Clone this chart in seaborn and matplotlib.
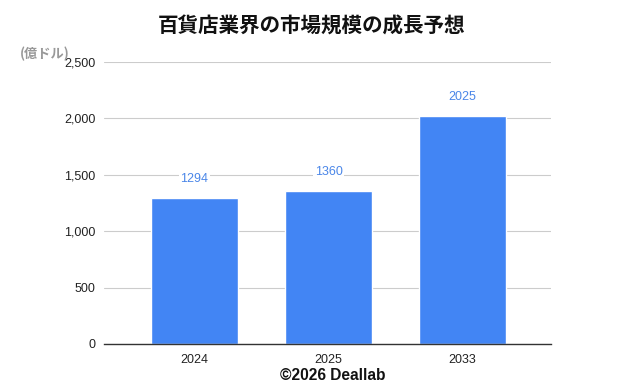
import matplotlib
matplotlib.use("Agg")
import matplotlib.pyplot as plt
import seaborn as sns
import pandas as pd
from matplotlib.ticker import FuncFormatter

years = ["2024", "2025", "2033"]
values = [1294, 1360, 2025]
yticks = [0, 500, 1000, 1500, 2000, 2500]

sns.set_theme(style="white")
plt.rcParams['font.family'] = ['Liberation Sans', 'Noto Sans CJK JP', 'DejaVu Sans']

df = pd.DataFrame({"year": years, "value": values})

fig = plt.figure(figsize=(6.26, 3.86), dpi=100)
ax = fig.add_axes([104/626, 1-344/386, (551-104)/626, (344-62)/386])

sns.barplot(data=df, x="year", y="value", color="#4285F4", width=0.65,
            saturation=1, ax=ax, zorder=3)

ax.set_xlim(-0.675, 2.66)
ax.set_ylim(0, 2500)
ax.set_yticks(yticks)
ax.yaxis.set_major_formatter(FuncFormatter(lambda v, p: f"{int(v):,}"))
ax.grid(axis="y", color="#cccccc", linewidth=0.8, zorder=0)
for s in ["top", "right", "left"]:
    ax.spines[s].set_visible(False)
ax.spines["bottom"].set_color("#333333")
ax.spines["bottom"].set_linewidth(1.0)
ax.spines["bottom"].set_zorder(4)
ax.tick_params(axis="both", length=0, labelsize=9, colors="#222222", pad=6)
ax.tick_params(axis="x", pad=7)
ax.set_xlabel("")
ax.set_ylabel("")

for i, v in enumerate(values):
    ax.annotate(str(v), (i, v), xytext=(0, 13.5), textcoords="offset points",
                ha="center", va="center", fontsize=9, color="#4a86e8", zorder=5,
                bbox=dict(boxstyle="square,pad=0.15", fc="white", ec="none"))

fig.text(311.5/626, 1-26/386, "百貨店業界の市場規模の成長予想", ha="center", va="center",
         fontsize=14.8, fontweight="bold", color="#111111",
         family=['Noto Sans CJK JP', 'DejaVu Sans'])
fig.text(20/626, 1-54/386, "(億ドル)", ha="left", va="center",
         fontsize=9.5, fontweight="bold", color="#999999",
         family=['Noto Sans CJK JP', 'DejaVu Sans'])
fig.text(333/626, 1-375/386, "©2026 Deallab", ha="center", va="center",
         fontsize=11.2, fontweight="bold", color="#111111")

fig.savefig("out.png", dpi=100)
